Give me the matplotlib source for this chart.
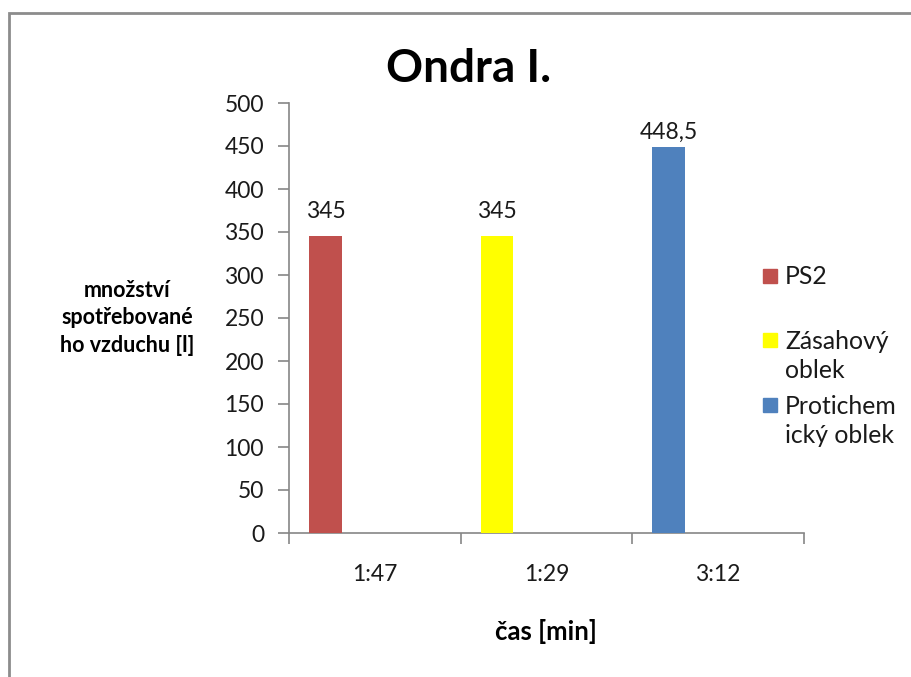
import matplotlib
matplotlib.use("Agg")
import matplotlib.pyplot as plt
from matplotlib.patches import Rectangle
import numpy as np

plt.rcParams['font.family'] = ['Lato', 'DejaVu Sans']

categories = ["1:47", "1:29", "3:12"]
series_names = ["PS2", "Zásahový\noblek", "Protichem\nický oblek"]
values = [345, 345, 448.5]
value_labels = ["345", "345", "448,5"]
colors = ["#C0504D", "#FFFF00", "#4F81BD"]
y_ticks = [0, 50, 100, 150, 200, 250, 300, 350, 400, 450, 500]
title = "Ondra I."
x_title = "čas [min]"
y_title = "množství\nspotřebované\nho vzduchu [l]"

W, H = 912, 677
fig = plt.figure(figsize=(W / 100, H / 100), dpi=100)

def fx(px):
    return px / W

def fy(py):
    return 1 - py / H

TXT = '#1a1a1a'
ax = fig.add_axes([fx(289), fy(533), fx(804) - fx(289), fy(103) - fy(533)])

x = np.arange(len(categories))
bar_w = 0.19
bar_off = -0.5 + 0.117
label_offsets = [18, 18, 11]
for i, (v, c) in enumerate(zip(values, colors)):
    ax.bar(x[i] + bar_off, v, width=bar_w, align='edge', color=c, edgecolor='none', zorder=3)
    ax.annotate(value_labels[i], (x[i] + bar_off + bar_w / 2, v), xytext=(0, label_offsets[i]),
                textcoords='offset points', ha='center', va='center', fontsize=16.5, color=TXT)

ax.set_xlim(-0.5, len(categories) - 0.5)
ax.set_ylim(0, 500)
ax.set_yticks(y_ticks)
ax.set_yticklabels([str(t) for t in y_ticks], fontsize=16.5, color=TXT)
ax.set_xticks(np.arange(len(categories) + 1) - 0.5)
ax.set_xticklabels([])
ax.set_xticks(x, minor=True)
ax.set_xticklabels(categories, minor=True, fontsize=16.5, color=TXT)
ax.tick_params(axis='x', which='minor', length=0, pad=22)
ax.tick_params(axis='x', which='major', length=8, color='#868686', width=1.2, direction='out')
ax.tick_params(axis='y', length=8, color='#868686', width=1.2, direction='out', pad=10)
for s in ['top', 'right']:
    ax.spines[s].set_visible(False)
for s in ['left', 'bottom']:
    ax.spines[s].set_color('#868686')
    ax.spines[s].set_linewidth(1.2)

fig.text(fx(469), fy(82), title, ha='center', va='baseline', fontsize=33, fontweight='bold', color='black')
fig.text(fx(546), fy(631), x_title, ha='center', va='center', fontsize=18.5, fontweight='bold', color='black')
fig.text(fx(127), fy(318), y_title, ha='center', va='center', fontsize=15.5, fontweight='bold',
         color='black', linespacing=1.4)

# legend (manual, Excel-like layout)
leg_sq = [276, 340, 405]
leg_txt = [276, 356, 421]
for name, c, ys, yt in zip(series_names, colors, leg_sq, leg_txt):
    fig.patches.append(Rectangle((fx(763), fy(ys + 7)), fx(14), 14 / H, color=c,
                                 transform=fig.transFigure, figure=fig))
    fig.text(fx(785), fy(yt), name, ha='left', va='center',
             fontsize=17.8, color=TXT, linespacing=1.36)

# outer chart border
fig.patches.append(Rectangle((fx(9), fy(H + 20)), fx(W + 40), (H + 20 - 13) / H, fill=False,
                             edgecolor='#8c8c8c', linewidth=2, transform=fig.transFigure, figure=fig))

fig.savefig("out.png", dpi=100)
